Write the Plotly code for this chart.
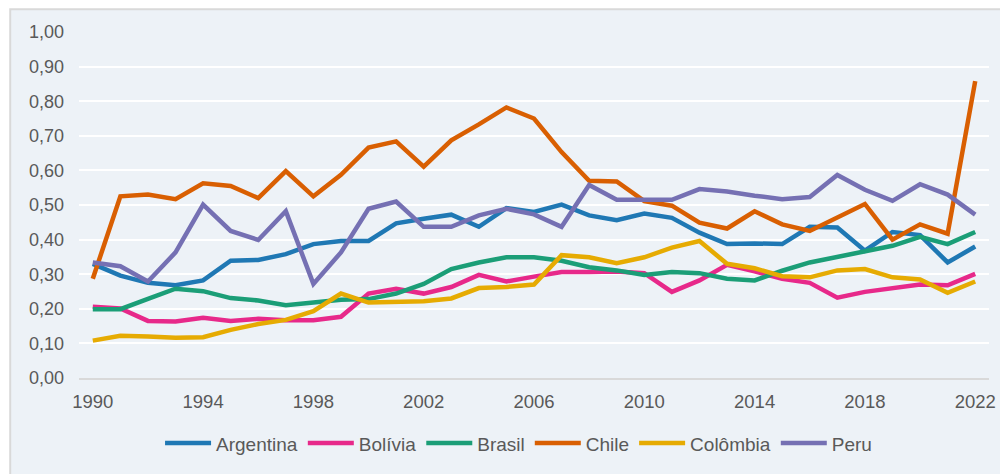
import plotly.graph_objects as go

years = list(range(1990, 2023))

argentina = [0.330, 0.296, 0.275, 0.268, 0.282, 0.339, 0.341, 0.358, 0.387, 0.396, 0.396,
             0.447, 0.460, 0.472, 0.437, 0.491, 0.480, 0.501, 0.470, 0.456, 0.475,
             0.463, 0.420, 0.387, 0.389, 0.387, 0.437, 0.435, 0.368, 0.422, 0.413, 0.334, 0.380]
bolivia = [0.206, 0.201, 0.165, 0.163, 0.174, 0.165, 0.171, 0.167, 0.167, 0.177, 0.244,
           0.258, 0.244, 0.263, 0.298, 0.279, 0.293, 0.306, 0.306, 0.308, 0.303,
           0.249, 0.282, 0.327, 0.308, 0.287, 0.275, 0.232, 0.249, 0.260, 0.270, 0.268, 0.301]
brasil = [0.199, 0.199, 0.229, 0.258, 0.251, 0.231, 0.224, 0.210, 0.218, 0.226, 0.228,
          0.244, 0.272, 0.315, 0.334, 0.349, 0.349, 0.339, 0.320, 0.311, 0.298,
          0.306, 0.303, 0.287, 0.282, 0.310, 0.334, 0.350, 0.363, 0.382, 0.408, 0.387, 0.422]
chile = [0.287, 0.525, 0.530, 0.517, 0.563, 0.555, 0.520, 0.598, 0.525, 0.587, 0.666,
         0.684, 0.611, 0.687, 0.733, 0.782, 0.750, 0.653, 0.570, 0.568, 0.511,
         0.498, 0.449, 0.432, 0.482, 0.444, 0.425, 0.465, 0.503, 0.400, 0.444, 0.417, 0.858]
colombia = [0.108, 0.122, 0.120, 0.116, 0.118, 0.139, 0.156, 0.168, 0.193, 0.244, 0.218,
            0.220, 0.222, 0.230, 0.260, 0.263, 0.270, 0.355, 0.349, 0.332, 0.349,
            0.377, 0.396, 0.330, 0.317, 0.294, 0.291, 0.311, 0.315, 0.291, 0.285, 0.246, 0.279]
peru = [0.334, 0.323, 0.279, 0.363, 0.501, 0.425, 0.399, 0.482, 0.272, 0.363, 0.489,
        0.510, 0.437, 0.437, 0.470, 0.489, 0.473, 0.437, 0.558, 0.515, 0.515,
        0.515, 0.546, 0.539, 0.527, 0.517, 0.523, 0.587, 0.544, 0.512, 0.560, 0.530, 0.472]

series_names = ["Argentina", "Bolívia", "Brasil", "Chile", "Colômbia", "Peru"]
series_values = [argentina, bolivia, brasil, chile, colombia, peru]
series_colors = ["#1f78b4", "#e7298a", "#1b9e77", "#d95f02", "#e6ab02", "#7570b3"]

x_ticks = list(range(1990, 2023, 4))
y_ticks = [i / 10 for i in range(0, 11)]
y_tick_labels = [f"{v:.2f}".replace(".", ",") for v in y_ticks]

fig = go.Figure()
for name, vals, col in zip(series_names, series_values, series_colors):
    fig.add_trace(go.Scatter(x=years, y=vals, name=name, mode="lines",
                             line=dict(color=col, width=4.5)))

# page body has an 8px margin; figure is sized so it ends at the window edge
OFF = 8
W, H = 1008 - OFF, 474 - OFF
ml, mr, mt, mb = 79 - OFF, 16, 32 - OFF, 92
pw, ph = W - ml - mr, H - mt - mb

def px_x(p):
    return (p - OFF - ml) / pw

def px_y(p):
    return (H - mb - (p - OFF)) / ph

fig.add_shape(type="rect", xref="paper", yref="paper",
              x0=px_x(10), x1=px_x(1020), y0=px_y(490), y1=px_y(9),
              fillcolor="#edf2f7", line=dict(color="#d9d9d9", width=2), layer="below")

font = "Liberation Sans, Arial, sans-serif"
fig.update_layout(
    width=W, height=H,
    margin=dict(l=ml, r=mr, t=mt, b=mb),
    paper_bgcolor="white",
    plot_bgcolor="rgba(0,0,0,0)",
    font=dict(family=font, size=18, color="#595959"),
    showlegend=True,
    legend=dict(orientation="h", x=px_x(520), xanchor="center", y=px_y(448), yanchor="middle",
                font=dict(size=19, color="#595959"), bgcolor="rgba(0,0,0,0)",
                itemwidth=46, tracegroupgap=0),
    xaxis=dict(range=[1989.5, 2022.5], tickvals=x_ticks, ticktext=[str(t) for t in x_ticks],
               tickfont=dict(size=18.5),
               showgrid=False, showline=True, linecolor="#d9d9d9", linewidth=2,
               ticks="", zeroline=False, ticklabelstandoff=6, fixedrange=True),
    yaxis=dict(range=[0, 1.0], tickvals=y_ticks, ticktext=y_tick_labels,
               tickfont=dict(size=18),
               showgrid=True, gridcolor="white", gridwidth=2, zeroline=False,
               showline=False, ticks="", ticklabelstandoff=14, fixedrange=True),
)

fig.write_html("out.html")
